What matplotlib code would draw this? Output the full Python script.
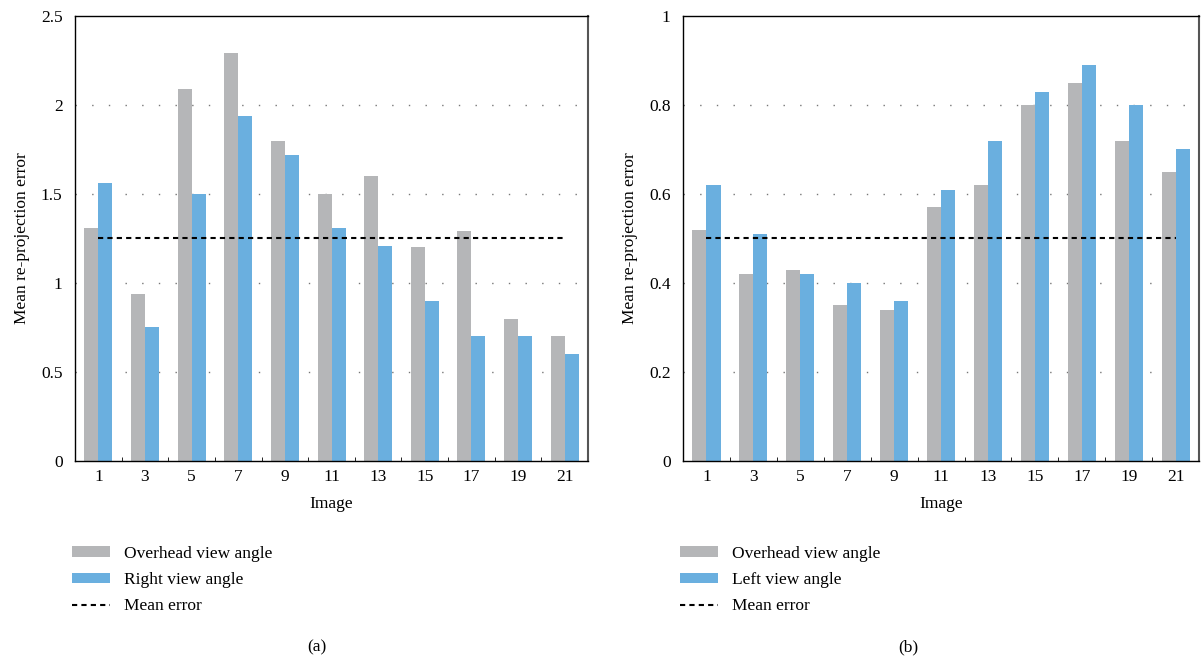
import numpy as np
import matplotlib
matplotlib.use("Agg")
import matplotlib.pyplot as plt
from matplotlib.patches import Patch
from matplotlib.lines import Line2D

images = [1, 3, 5, 7, 9, 11, 13, 15, 17, 19, 21]

a_overhead = [1.31, 0.94, 2.09, 2.29, 1.80, 1.50, 1.60, 1.20, 1.29, 0.80, 0.70]
a_right = [1.56, 0.75, 1.50, 1.94, 1.72, 1.31, 1.21, 0.90, 0.70, 0.70, 0.60]
a_mean = 1.25

b_overhead = [0.52, 0.42, 0.43, 0.35, 0.34, 0.57, 0.62, 0.80, 0.85, 0.72, 0.65]
b_left = [0.62, 0.51, 0.42, 0.40, 0.36, 0.61, 0.72, 0.83, 0.89, 0.80, 0.70]
b_mean = 0.50

a_yticks = [0, 0.5, 1, 1.5, 2, 2.5]
a_yticklabels = ["0", "0.5", "1", "1.5", "2", "2.5"]
b_yticks = [0, 0.2, 0.4, 0.6, 0.8, 1.0]
b_yticklabels = ["0", "0.2", "0.4", "0.6", "0.8", "1"]

GRAY = "#b5b6b8"
BLUE = "#6aafdf"

plt.rcParams["font.family"] = ["Liberation Serif", "DejaVu Serif"]
plt.rcParams["font.size"] = 12.5

fig = plt.figure(figsize=(12.04, 6.61), dpi=100)

DASH = (0, (2.5, 2.0))

def panel(rect, over, second, mean, yticks, ylabels, second_label, caption, cap_x):
    ax = fig.add_axes(rect)
    x = np.array(images, dtype=float)
    w = 0.6
    ax.bar(x - w / 2, over, width=w, color=GRAY, zorder=2)
    ax.bar(x + w / 2, second, width=w, color=BLUE, zorder=2)
    ax.plot([x[0], x[-1]], [mean, mean], color="black", lw=1.5,
            linestyle=DASH, zorder=3)
    ax.set_xlim(0, 22)
    ax.set_ylim(yticks[0], yticks[-1])
    ax.set_xticks(images)
    ax.set_xticklabels([str(i) for i in images])
    ax.set_xticks(np.arange(0, 23, 2), minor=True)
    ax.tick_params(axis="x", which="major", length=0, pad=6)
    ax.tick_params(axis="x", which="minor", length=3, direction="in")
    ax.set_yticks(yticks)
    ax.set_yticklabels(ylabels)
    ax.tick_params(axis="y", length=0, pad=9)
    for yv in yticks[1:-1]:
        ax.axhline(yv, color="#777777", lw=1.0, linestyle=(0, (1, 11)), zorder=1)
    for s in ax.spines.values():
        s.set_linewidth(1.0)
        s.set_color("black")
    ax.spines["right"].set_color("#555555")
    ax.spines["right"].set_linewidth(1.5)
    ax.set_xlabel("Image", labelpad=8)
    ax.set_ylabel("Mean re-projection error", labelpad=8)
    handles = [Patch(facecolor=GRAY, edgecolor="none"),
               Patch(facecolor=BLUE, edgecolor="none"),
               Line2D([0], [0], color="black", lw=1.5, linestyle=DASH)]
    labels = ["Overhead view angle", second_label, "Mean error"]
    ax.legend(handles, labels, loc="upper left", bbox_to_anchor=(-0.005, -0.19),
              frameon=False, handlelength=2.15, handleheight=0.55,
              handletextpad=0.8, labelspacing=0.6, borderaxespad=0,
              borderpad=0, fontsize=12.5)
    fig.text(cap_x, 0.021, caption, ha="center", va="center", fontsize=12.5)
    return ax

panel([0.0623, 0.3026, 0.4261, 0.6732], a_overhead, a_right, a_mean,
      a_yticks, a_yticklabels, "Right view angle", "(a)", 0.2635)
panel([0.5673, 0.3026, 0.4286, 0.6732], b_overhead, b_left, b_mean,
      b_yticks, b_yticklabels, "Left view angle", "(b)", 0.754)

fig.savefig("out.png", dpi=100)
